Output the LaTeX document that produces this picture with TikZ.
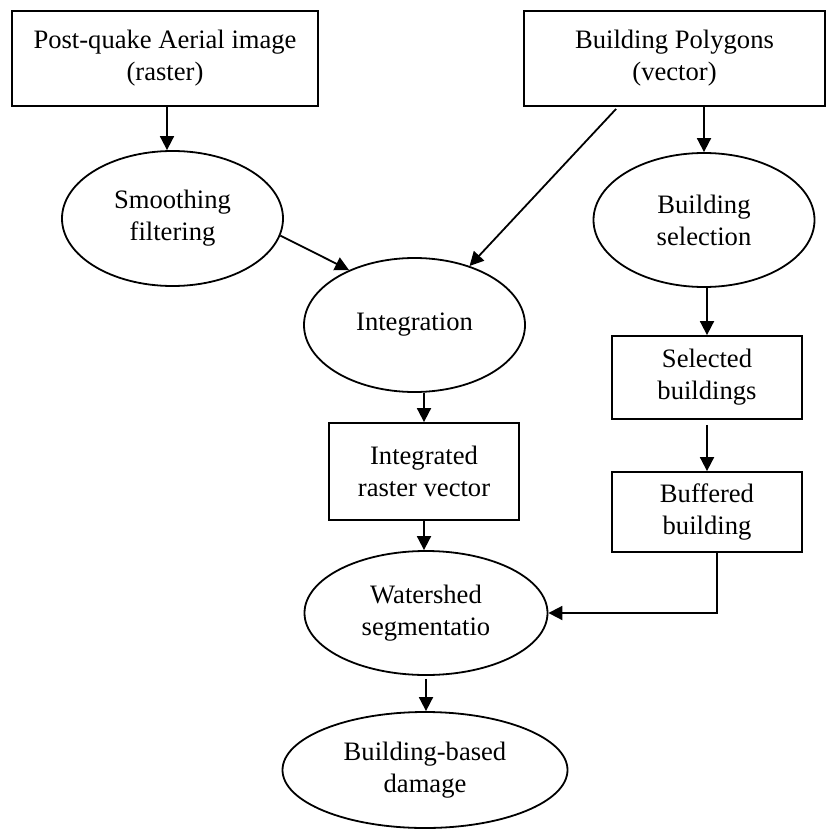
\documentclass[tikz,border=0pt]{standalone}
\usepackage{fontspec}
\setmainfont{Liberation Serif}
\usetikzlibrary{shapes.geometric,arrows.meta}

\begin{document}
\begin{tikzpicture}[x=1pt,y=-1pt,
  every node/.style={font=\fontsize{26.6}{32}\selectfont, align=center, inner sep=0pt},
  box/.style={draw, line width=1.8pt, rectangle},
  oval/.style={draw, line width=1.8pt, ellipse},
  arr/.style={line width=1.8pt, -{Triangle[length=14pt,width=14pt]}}]

\useasboundingbox (0,0) rectangle (826,829);

% data sources
\node[box, minimum width=306pt, minimum height=95pt] (aerial) at (165,58.5)
  {Post-quake Aerial image\\(raster)};
\node[box, minimum width=301pt, minimum height=95pt] (polys) at (674.5,58.5)
  {Building Polygons\\(vector)};

% processing steps
\node[oval, minimum width=221pt, minimum height=135pt] (smooth) at (172.5,218.5)
  {Smoothing\\filtering};
\node[oval, minimum width=221pt, minimum height=134pt] (bsel) at (704,220)
  {Building\\selection};
\node[oval, minimum width=221pt, minimum height=134pt] (integ) at (414.5,325)
  {Integration};
\node[box, minimum width=190pt, minimum height=83pt] (selb) at (707,377.5)
  {Selected\\buildings};
\node[box, minimum width=190pt, minimum height=97pt] (intrv) at (424,471.5)
  {Integrated\\raster vector};
\node[box, minimum width=190pt, minimum height=80pt] (buff) at (707,512)
  {Buffered\\building};
\node[oval, minimum width=243pt, minimum height=124pt] (water) at (426,613)
  {Watershed\\segmentatio};
\node[oval, minimum width=285pt, minimum height=116pt] (damage) at (425,770)
  {Building-based\\damage};

% flow
\draw[arr] ([xshift=2pt]aerial.south) -- ([xshift=2pt]aerial.south |- smooth.north);
\draw[arr] ([xshift=93pt,yshift=-2pt]polys.south west) -- (integ);
\draw[arr] (polys.south -| bsel.north) -- (bsel.north);
\draw[arr] (smooth.-9) -- (integ.140);
\draw[arr] (selb.north |- bsel.south) -- (selb.north);
\draw[arr] ([yshift=-5pt]selb.south) -- (buff.north);
\draw[arr] (intrv.north |- integ.south) -- (intrv.north);
\draw[arr] (intrv.south) -- (intrv.south |- water.north);
\draw[arr] ([xshift=10pt]buff.south) |- (water.east);
\draw[arr] ([yshift=-3pt]water.south) -- (water.south |- damage.north);
\end{tikzpicture}
\end{document}
